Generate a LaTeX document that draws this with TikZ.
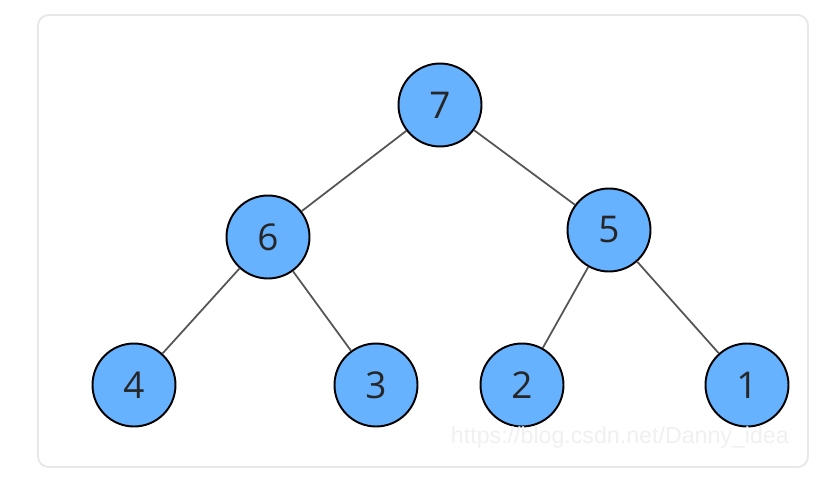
\documentclass[tikz,border=0pt]{standalone}
\usepackage{fontspec}
\setmainfont{Open Sans}
\newfontfamily\wmfont{Liberation Sans}
\definecolor{heapblue}{HTML}{66B2FF}
\definecolor{heapline}{HTML}{555555}
\definecolor{framegray}{HTML}{E8E8E8}
\tikzset{
    heapnode/.style={circle, draw=black, line width=1.1pt, fill=heapblue,
        minimum size=1.66cm, inner sep=0pt, text=black!85,
        font=\fontsize{21}{24}\selectfont},
    heapedge/.style={draw=heapline, line width=1pt}
}
\begin{document}
\begin{tikzpicture}[x=0.02cm, y=-0.02cm]
    \useasboundingbox (0,0) rectangle (833,480);
    \draw[framegray, line width=1.1pt, rounded corners=6pt] (38,15) rectangle (808,467);

    % the heap
    \node[heapnode] (n7) at (440,105) {7};
    \node[heapnode] (n6) at (268,237) {6};
    \node[heapnode] (n5) at (609,230) {5};
    \node[heapnode] (n4) at (134,385) {4};
    \node[heapnode] (n3) at (376,385) {3};
    \node[heapnode] (n2) at (522,385) {2};
    \node[heapnode] (n1) at (747,385) {1};

    \draw[heapedge] (n7) -- (n6);
    \draw[heapedge] (n7) -- (n5);
    \draw[heapedge] (n6) -- (n4);
    \draw[heapedge] (n6) -- (n3);
    \draw[heapedge] (n5) -- (n2);
    \draw[heapedge] (n5) -- (n1);

    \node[text=black!6, font=\wmfont\fontsize{13.2}{16}\selectfont, anchor=east] (wm) at (795,438) {https://blog.csdn.net/Danny\_idea};
\end{tikzpicture}
\end{document}
